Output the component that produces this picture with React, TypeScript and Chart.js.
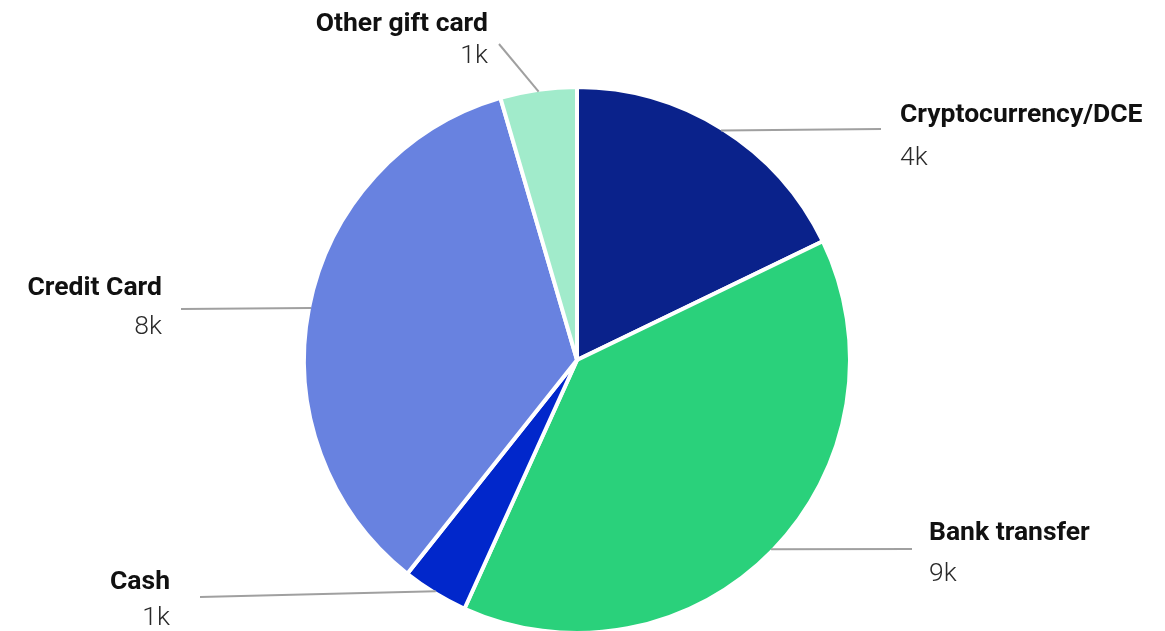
import React, { useEffect, useRef } from "react";
import { Chart, registerables } from "chart.js";

Chart.register(...registerables);

const categories = ["Cryptocurrency/DCE", "Bank transfer", "Cash", "Credit Card", "Other gift card"];
const values = [4100, 8950, 900, 8000, 1040];
const valueLabels = ["4k", "9k", "1k", "8k", "1k"];
const colors = ["#0a228b", "#2ad17b", "#0127cb", "#6882e0", "#a1ebcb"];

// label layout relative to the pie centre: line end (lx, ly), name baseline (tx, ty), value baseline (vy)
const labelLayout = [
  { lx: 304, ly: -231, tx: 323, ty: -238, vy: -195, align: "left" },
  { lx: 335, ly: 189, tx: 352, ty: 180, vy: 221, align: "left" },
  { lx: -377, ly: 237, tx: -407, ty: 229, vy: 265, align: "right" },
  { lx: -396, ly: -51, tx: -415, ty: -65, vy: -26, align: "right" },
  { lx: -78, ly: -316, tx: -89, ty: -329, vy: -297, align: "right" },
];

const BORDER = 4;

const labelPlugin = {
  id: "outLabels",
  afterDraw(chart: any) {
    const ctx = chart.ctx;
    const meta = chart.getDatasetMeta(0);
    ctx.save();
    meta.data.forEach((arc: any, i: number) => {
      const p = arc.getProps(["x", "y", "startAngle", "endAngle", "outerRadius"], true);
      const mid = (p.startAngle + p.endAngle) / 2;
      const r = p.outerRadius - BORDER / 2;
      const ex = p.x + Math.cos(mid) * r;
      const ey = p.y + Math.sin(mid) * r;
      const L = labelLayout[i];
      ctx.strokeStyle = "#a0a0a0";
      ctx.lineWidth = 2;
      ctx.beginPath();
      ctx.moveTo(ex, ey);
      ctx.lineTo(p.x + L.lx, p.y + L.ly);
      ctx.stroke();
      ctx.textAlign = L.align;
      ctx.textBaseline = "alphabetic";
      ctx.fillStyle = "#111111";
      ctx.font = "700 26.5px Roboto";
      ctx.fillText(categories[i], p.x + L.tx, p.y + L.ty);
      ctx.fillStyle = "#2a2a2a";
      ctx.font = "300 26.5px Roboto";
      ctx.fillText(valueLabels[i], p.x + L.tx, p.y + L.vy);
    });
    ctx.restore();
  },
};

export default function App() {
  const ref = useRef<HTMLCanvasElement>(null);
  useEffect(() => {
    document.body.style.margin = "0";
    document.body.style.overflow = "hidden";
    const chart = new Chart(ref.current as HTMLCanvasElement, {
      type: "pie",
      data: {
        labels: categories,
        datasets: [
          {
            data: values,
            backgroundColor: colors,
            borderColor: "#ffffff",
            borderWidth: BORDER,
          },
        ],
      },
      options: {
        responsive: false,
        animation: false,
        layout: { padding: { top: 85, bottom: 0, left: 0, right: 11 } },
        plugins: { legend: { display: false }, tooltip: { enabled: false } },
      },
      plugins: [labelPlugin],
    });
    return () => chart.destroy();
  }, []);
  return (
    <div style={{ position: "absolute", left: 0, top: 0, width: 1165, height: 631, overflow: "hidden", background: "#fff" }}>
      <canvas ref={ref} width={1165} height={635} />
    </div>
  );
}
